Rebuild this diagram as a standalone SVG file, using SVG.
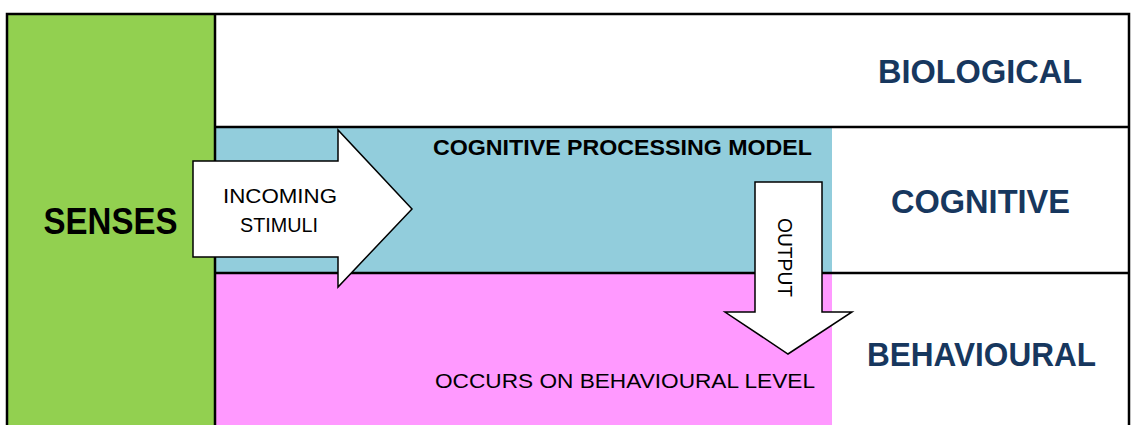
<svg xmlns="http://www.w3.org/2000/svg" width="1131" height="425" viewBox="0 0 1131 425">
<style>
.line{stroke:#000;stroke-width:2.5;fill:none}
.arrow{fill:#fff;stroke:#000;stroke-width:1.5;stroke-linejoin:miter}
.lvl{font-family:"Liberation Sans",Arial,sans-serif;font-weight:bold;font-size:34px;fill:#17375e}
.blk{font-family:"Liberation Sans",Arial,sans-serif;fill:#000}
.b{font-weight:bold}
</style>
<rect width="1131" height="425" fill="#fff"/>
<g id="senses">
<rect x="7" y="13" width="208" height="412" fill="#92d050"/>
<text class="blk b" x="110.5" y="234" font-size="36" text-anchor="middle" textLength="134" lengthAdjust="spacingAndGlyphs">SENSES</text>
</g>
<g id="cognitive-model">
<rect x="215" y="127" width="617" height="146" fill="#92cddc"/>
<text class="blk b" x="622.5" y="155" font-size="22" text-anchor="middle" textLength="379" lengthAdjust="spacingAndGlyphs">COGNITIVE PROCESSING MODEL</text>
</g>
<g id="behavioural-area">
<rect x="215" y="273" width="617" height="152" fill="#ff99ff"/>
<text class="blk" x="625" y="388" font-size="20" text-anchor="middle" textLength="380" lengthAdjust="spacingAndGlyphs">OCCURS ON BEHAVIOURAL LEVEL</text>
</g>
<g id="frame">
<path class="line" d="M7,425 V14 H1129 V425 M215,14 V425 M215,127 H1129 M215,273 H1129"/>
</g>
<g id="biological"><text class="lvl" x="980" y="83" text-anchor="middle" textLength="204" lengthAdjust="spacingAndGlyphs">BIOLOGICAL</text></g>
<g id="cognitive"><text class="lvl" x="980.5" y="213" text-anchor="middle" textLength="179" lengthAdjust="spacingAndGlyphs">COGNITIVE</text></g>
<g id="behavioural"><text class="lvl" x="981.5" y="366" text-anchor="middle" textLength="229" lengthAdjust="spacingAndGlyphs">BEHAVIOURAL</text></g>
<g id="connectors">
<g id="incoming-stimuli">
<polygon class="arrow" points="193,161 338,161 338,130 412,209 338,287 338,257 193,257"/>
<text class="blk" x="280" y="203" font-size="20" text-anchor="middle" textLength="114" lengthAdjust="spacingAndGlyphs">INCOMING</text>
<text class="blk" x="279" y="232" font-size="20" text-anchor="middle" textLength="78" lengthAdjust="spacingAndGlyphs">STIMULI</text>
</g>
<g id="output">
<polygon class="arrow" points="755,182 822,182 822,312 852,312 788,354 725,312 755,312"/>
<text class="blk" transform="translate(778,257.5) rotate(90)" x="0" y="0" font-size="20" text-anchor="middle" textLength="79" lengthAdjust="spacingAndGlyphs">OUTPUT</text>
</g>
</g>
</svg>
